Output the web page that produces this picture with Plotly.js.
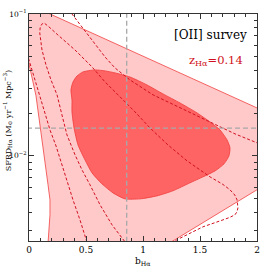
<!DOCTYPE html>
<html>
<head>
<meta charset="utf-8">
<script src="https://cdn.plot.ly/plotly-3.0.1.min.js"></script>
<style>html,body{margin:0;padding:0;background:#fff;}#chart{width:271px;height:271px;}</style>
</head>
<body>
<div id="chart"></div>
<script>
// Outer filled contour ([OII] survey, 95%)
const outerB = [-0.1, 0.1, 2.0, 2.1, 2.1, 1.2, 0.17, 0.167, 0.184, 0.184, 0.167, 0.140, 0.0965, 0.0614, 0.035, 0.0088, -0.0175, -0.079, -0.1];
const outerSFRD = [0.1413, 0.1074, 0.02178, 0.02004, 0.006457, 0.002344, 0.002239, 0.002438, 0.003846, 0.004898, 0.006252, 0.009078, 0.01574, 0.02649, 0.03319, 0.04169, 0.05140, 0.07709, 0.1413];

// Inner filled contour (68%)
const innerB = [0.377, 0.368, 0.386, 0.421, 0.474, 0.579, 0.667, 0.754, 0.886, 1.035, 1.175, 1.325, 1.474, 1.588, 1.675, 1.737, 1.763, 1.754, 1.711, 1.632, 1.526, 1.412, 1.263, 1.123, 0.974, 0.842, 0.737, 0.640, 0.553, 0.491, 0.430, 0.395, 0.377, 0.377];
const innerSFRD = [0.02477, 0.02917, 0.03319, 0.03656, 0.03908, 0.04036, 0.03972, 0.03846, 0.03597, 0.03162, 0.02735, 0.02360, 0.02009, 0.01734, 0.01524, 0.01297, 0.01138, 0.01000, 0.008790, 0.007834, 0.007112, 0.006457, 0.005675, 0.005224, 0.004977, 0.004977, 0.005483, 0.006353, 0.007586, 0.009376, 0.01194, 0.01574, 0.02042, 0.02477];

// Dashed contour, inner (68%)
const dashInB = [0.886, 0.842, 0.728, 0.623, 0.535, 0.465, 0.404, 0.333, 0.289, 0.246, 0.193, 0.149, 0.114, 0.0965, 0.094, 0.098, 0.110, 0.132, 0.167, 0.254, 0.404, 0.553, 0.667, 0.781, 0.930, 1.061, 1.219, 1.386, 1.588, 1.700, 1.763, 1.805, 1.825, 1.833, 1.825, 1.807, 1.760, 1.702, 1.526, 1.351, 1.263, 1.149, 0.886];
const dashInSFRD = [0.002178, 0.002477, 0.003266, 0.004519, 0.006252, 0.007962, 0.01016, 0.01406, 0.01945, 0.02692, 0.03428, 0.04375, 0.05572, 0.06776, 0.0740, 0.0800, 0.0845, 0.08650, 0.08222, 0.07112, 0.05572, 0.04236, 0.03319, 0.02692, 0.02042, 0.01574, 0.01194, 0.009226, 0.007112, 0.006300, 0.005768, 0.005300, 0.004898, 0.004305, 0.004050, 0.003846, 0.003680, 0.003540, 0.003162, 0.002692, 0.002477, 0.002178, 0.002178];

// Dashed contour, outer (95%)
const dashOutB = [0.535, 0.509, 0.447, 0.386, 0.333, 0.281, 0.237, 0.184, 0.140, 0.0965, 0.070, 0.035, 0.0, -0.035, -0.1, 0.25, 0.316, 0.377, 0.518, 0.667, 0.754, 0.886, 1.088, 1.237, 1.412, 1.614, 1.807, 2.0, 2.114];
const dashOutSFRD = [0.002109, 0.002477, 0.003540, 0.004898, 0.006776, 0.009078, 0.01175, 0.01524, 0.02009, 0.02692, 0.03162, 0.03908, 0.04742, 0.05768, 0.1413, 0.1413, 0.1156, 0.1, 0.07112, 0.04977, 0.04169, 0.03428, 0.02692, 0.02360, 0.02042, 0.01706, 0.01429, 0.01236, 0.01138];

// Fiducial values
const fidB = 0.857;
const fidSFRD = 0.01567;

// Axis ticks
const xTickVals = [0, 0.5, 1, 1.5, 2];
const xTickText = ['0', '0.5', '1', '1.5', '2'];
const yTickVals = [0.01, 0.1];
const yTickText = ['10<sup>−2</sup>', '10<sup>−1</sup>'];
const yMinorVals = [0.003, 0.004, 0.005, 0.006, 0.007, 0.008, 0.009, 0.02, 0.03, 0.04, 0.05, 0.06, 0.07, 0.08, 0.09];

const FONT = 'DejaVu Serif, Liberation Serif, serif';

const traces = [
  {x: outerB, y: outerSFRD, mode: 'lines', fill: 'toself', fillcolor: '#FFC9C9',
   line: {color: '#F04040', width: 0.8}, hoverinfo: 'skip'},
  {x: innerB, y: innerSFRD, mode: 'lines', fill: 'toself', fillcolor: '#FF6464',
   line: {color: '#F03a3a', width: 0.8, shape: 'spline', smoothing: 0.6}, hoverinfo: 'skip'},
  {x: dashInB, y: dashInSFRD, mode: 'lines',
   line: {color: '#D01020', width: 1, dash: '3px,2px'}, hoverinfo: 'skip'},
  {x: dashOutB, y: dashOutSFRD, mode: 'lines',
   line: {color: '#D01020', width: 1, dash: '3px,2px'}, hoverinfo: 'skip'},
  {x: [fidB, fidB], y: [0.001, 0.2], mode: 'lines',
   line: {color: '#A8A8A8', width: 1.3, dash: '5px,3px'}, hoverinfo: 'skip'},
  {x: [-1, 3], y: [fidSFRD, fidSFRD], mode: 'lines',
   line: {color: '#A8A8A8', width: 1.3, dash: '5px,3px'}, hoverinfo: 'skip'}
];

const layout = {
  width: 271, height: 271,
  margin: {l: 29, r: 14, t: 14, b: 30},
  paper_bgcolor: '#fff', plot_bgcolor: '#fff',
  showlegend: false,
  font: {family: FONT, size: 9, color: '#000'},
  xaxis: {
    range: [0, 2], tickmode: 'array', tickvals: xTickVals, ticktext: xTickText,
    ticks: 'inside', ticklen: 5, tickwidth: 1, tickcolor: '#333',
    minor: {dtick: 0.1, tick0: 0, ticks: 'inside', ticklen: 3, tickcolor: '#333'},
    showline: true, linecolor: '#333', linewidth: 1, mirror: 'allticks',
    showgrid: false, zeroline: false,
    tickfont: {family: FONT, size: 9, color: '#000'}
  },
  yaxis: {
    type: 'log', range: [-2.6, -1], tickmode: 'array', tickvals: yTickVals, ticktext: yTickText,
    ticks: 'inside', ticklen: 5, tickwidth: 1, tickcolor: '#333',
    minor: {tickmode: 'array', tickvals: yMinorVals, ticks: 'inside', ticklen: 3, tickcolor: '#333'},
    showline: true, linecolor: '#333', linewidth: 1, mirror: 'allticks',
    showgrid: false, zeroline: false,
    tickfont: {family: FONT, size: 7.5, color: '#000'}
  },
  annotations: [
    {text: '[OII] survey', xref: 'paper', yref: 'paper', x: 0.794, y: 0.907,
     xanchor: 'center', yanchor: 'middle',
     showarrow: false, font: {family: FONT, size: 12, color: '#000'}},
    {text: 'z<sub>Hα</sub>=0.14', xref: 'paper', yref: 'paper', x: 0.82, y: 0.793,
     xanchor: 'center', yanchor: 'middle',
     showarrow: false, font: {family: FONT, size: 11.5, color: '#D01020'}},
    {text: 'SFRD<sub>Hα</sub> (M<sub>⊙</sub> yr<sup>−1</sup> Mpc<sup>−3</sup>)', xref: 'paper', yref: 'paper',
     x: -0.095, y: 0.533, xanchor: 'center', yanchor: 'middle', textangle: -90, showarrow: false,
     font: {family: FONT, size: 8, color: '#000'}},
    {text: 'b<sub>Hα</sub>', xref: 'paper', yref: 'paper', x: 0.5, y: -0.092,
     xanchor: 'center', yanchor: 'middle',
     showarrow: false, font: {family: FONT, size: 9, color: '#000'}}
  ]
};

Plotly.newPlot('chart', traces, layout, {displayModeBar: false, staticPlot: true});
</script>
</body>
</html>
